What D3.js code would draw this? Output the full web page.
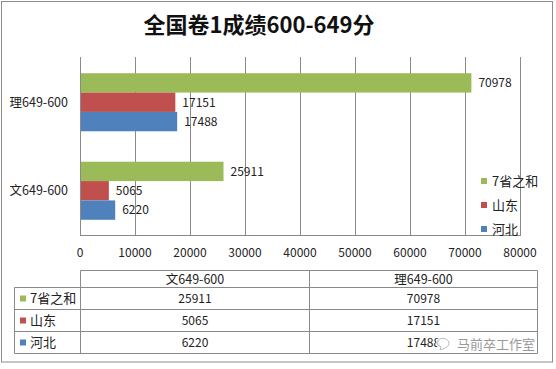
<!DOCTYPE html>
<html>
<head>
<meta charset="utf-8">
<script src="https://cdn.jsdelivr.net/npm/d3@7"></script>
<style>
  body { margin: 0; background: #fff; }
  svg { display: block; font-family: "Noto Sans CJK SC", "Noto Sans", sans-serif; }
</style>
</head>
<body>
<script>
// data
const categories = ['理649-600', '文649-600'];          // top to bottom
const seriesNames = ['7省之和', '山东', '河北'];           // top to bottom inside a group
const seriesColors = ['#9BBB59', '#C0504D', '#4F81BD'];
const values = {
  '7省之和': [70978, 25911],
  '山东': [17151, 5065],
  '河北': [17488, 6220]
};
const xTicks = [0, 10000, 20000, 30000, 40000, 50000, 60000, 70000, 80000];
const tableCols = ['文649-600', '理649-600'];

const width = 556, height = 369;

const svg = d3.select('body').append('svg')
    .attr('width', width)
    .attr('height', height);

// chart frame
svg.append('rect')
    .attr('x', 1.5).attr('y', 1.5)
    .attr('width', 551).attr('height', 360.5)
    .attr('fill', '#fff')
    .attr('stroke', '#8c8c8c');

svg.append('text')
    .attr('x', 259).attr('y', 33)
    .attr('text-anchor', 'middle')
    .style('font-size', '22px')
    .style('font-weight', 'bold')
    .style('fill', '#111')
    .text('全国卷1成绩600-649分');

const x = d3.scaleLinear().domain([0, 80000]).range([80, 520]);
const y0 = d3.scaleBand().domain(categories).range([58, 235])
    .paddingInner(0.344).paddingOuter(0.172);
const y1 = d3.scaleBand().domain(seriesNames).range([0, y0.bandwidth()]);
const color = d3.scaleOrdinal().domain(seriesNames).range(seriesColors);

// gridlines
svg.append('g').selectAll('line')
    .data(xTicks.slice(1))
    .join('line')
    .attr('x1', d => Math.round(x(d)) + 0.5).attr('x2', d => Math.round(x(d)) + 0.5)
    .attr('y1', 57).attr('y2', 235)
    .attr('stroke', '#8a8a8a');

// axes lines
svg.append('line')
    .attr('x1', 80.5).attr('x2', 80.5).attr('y1', 57).attr('y2', 235)
    .attr('stroke', '#8a8a8a');
svg.append('line')
    .attr('x1', 80).attr('x2', 521).attr('y1', 235.5).attr('y2', 235.5)
    .attr('stroke', '#8a8a8a');

// bars
const flat = [];
categories.forEach((c, ci) => {
  seriesNames.forEach(s => flat.push({ cat: c, series: s, value: values[s][ci] }));
});

svg.append('g').selectAll('rect')
    .data(flat)
    .join('rect')
    .attr('x', x(0) + 1)
    .attr('y', d => y0(d.cat) + y1(d.series))
    .attr('width', d => x(d.value) - x(0))
    .attr('height', y1.bandwidth())
    .attr('fill', d => color(d.series));

svg.append('g').selectAll('text')
    .data(flat)
    .join('text')
    .attr('x', d => x(d.value) + 8)
    .attr('y', d => y0(d.cat) + y1(d.series) + y1.bandwidth() / 2)
    .attr('dy', '0.36em')
    .style('font-size', '12px')
    .style('fill', '#222')
    .text(d => d.value);

// category labels
svg.append('g').selectAll('text')
    .data(categories)
    .join('text')
    .attr('x', 68)
    .attr('y', d => y0(d) + y0.bandwidth() / 2)
    .attr('dy', '0.36em')
    .attr('text-anchor', 'end')
    .style('font-size', '12.5px')
    .style('fill', '#222')
    .text(d => d);

// x tick labels
svg.append('g').selectAll('text')
    .data(xTicks)
    .join('text')
    .attr('x', d => x(d))
    .attr('y', 253)
    .attr('dy', '0.36em')
    .attr('text-anchor', 'middle')
    .style('font-size', '12px')
    .style('fill', '#222')
    .text(d => d);

// legend
const legend = svg.append('g').selectAll('g')
    .data(seriesNames)
    .join('g')
    .attr('transform', (d, i) => `translate(481, ${[181, 205, 229][i]})`);
legend.append('rect')
    .attr('x', 0).attr('y', -3).attr('width', 6).attr('height', 6)
    .attr('fill', d => color(d));
legend.append('text')
    .attr('x', 11).attr('dy', '0.36em')
    .style('font-size', '13px')
    .style('fill', '#222')
    .text(d => d);

// data table
const tX = [14.5, 80.5, 309.5, 537.5];
const tY = [270.5, 287.5, 309.5, 331.5, 353.5];
const tbl = svg.append('g').attr('stroke', '#8a8a8a').attr('fill', 'none');
tbl.append('line').attr('x1', tX[1]).attr('x2', tX[3]).attr('y1', tY[0]).attr('y2', tY[0]);
tY.slice(1).forEach(yy => {
  tbl.append('line').attr('x1', tX[0]).attr('x2', tX[3]).attr('y1', yy).attr('y2', yy);
});
tbl.append('line').attr('x1', tX[0]).attr('x2', tX[0]).attr('y1', tY[1]).attr('y2', tY[4]);
tX.slice(1).forEach(xx => {
  tbl.append('line').attr('x1', xx).attr('x2', xx).attr('y1', tY[0]).attr('y2', tY[4]);
});

svg.append('g').selectAll('text')
    .data(tableCols)
    .join('text')
    .attr('x', (d, i) => (tX[i + 1] + tX[i + 2]) / 2)
    .attr('y', (tY[0] + tY[1]) / 2)
    .attr('dy', '0.36em')
    .attr('text-anchor', 'middle')
    .style('font-size', '12.5px')
    .style('fill', '#222')
    .text(d => d);

const rows = svg.append('g').selectAll('g')
    .data(seriesNames)
    .join('g')
    .attr('transform', (d, i) => `translate(0, ${(tY[i + 1] + tY[i + 2]) / 2})`);
rows.append('rect')
    .attr('x', 20).attr('y', -3).attr('width', 6).attr('height', 6)
    .attr('fill', d => color(d));
rows.append('text')
    .attr('x', 30).attr('dy', '0.36em')
    .style('font-size', '13px')
    .style('fill', '#222')
    .text(d => d);
rows.selectAll('text.val')
    .data(s => [values[s][1], values[s][0]])
    .join('text')
    .attr('class', 'val')
    .attr('x', (d, i) => (tX[i + 1] + tX[i + 2]) / 2)
    .attr('dy', '0.36em')
    .attr('text-anchor', 'middle')
    .style('font-size', '12px')
    .style('fill', '#222')
    .text(d => d);

// watermark
const wm = svg.append('g').attr('transform', 'translate(443, 343)');
wm.append('circle').attr('r', 7).attr('fill', '#fff').attr('opacity', 0.85);
wm.append('path')
    .attr('d', 'M-6,1 A6,5 0 1,1 2,5 L-3,7 L-2,4 Z')
    .attr('fill', 'none').attr('stroke', '#bbb').attr('stroke-width', 1);
svg.append('text')
    .attr('x', 457).attr('y', 344)
    .attr('dy', '0.36em')
    .style('font-size', '13px')
    .style('fill', '#999')
    .text('马前卒工作室');
</script>
</body>
</html>
